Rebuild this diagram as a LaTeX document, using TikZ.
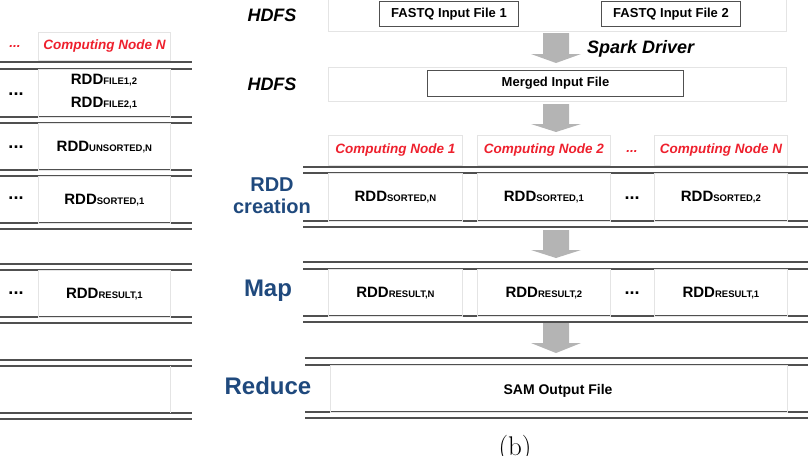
\documentclass[tikz,border=0pt]{standalone}
\usepackage{fontspec}
\newfontfamily\arialf{Liberation Sans}
\newcommand\fsz[1]{\fontsize{#1}{#1}\selectfont}
\newcommand\rddsub[1]{RDD{\fontsize{9.5}{10}\selectfont #1}}
\definecolor{cellgray}{RGB}{228,228,228}
\definecolor{linegray}{RGB}{80,80,80}
\definecolor{arrgray}{RGB}{180,180,180}
\definecolor{nodered}{RGB}{238,32,45}
\definecolor{stageblue}{RGB}{31,73,125}
\tikzset{
  cellbox/.style={draw=cellgray, line width=0.8pt, inner sep=0pt, anchor=north west},
  filebox/.style={draw=linegray, line width=1pt, inner sep=0pt, anchor=north west,
    font=\arialf\bfseries\fsz{13}},
  dline/.style={draw=linegray, line width=1.5pt},
  redlab/.style={text=nodered, font=\arialf\bfseries\itshape\fsz{13.5}},
  rddlab/.style={font=\arialf\bfseries\fsz{15}, inner sep=0pt},
  dots/.style={font=\arialf\bfseries\fsz{18}, inner sep=0pt},
  hdfslab/.style={font=\arialf\bfseries\itshape\fsz{18}, inner sep=0pt},
  stagelab/.style={text=stageblue, font=\arialf\bfseries\fontsize{20}{22}\selectfont,
    align=center, inner sep=0pt},
  blockarrow/.style={fill=arrgray, draw=none}
}
\newcommand\blockarr[4]{% x center, shaft top, head base, tip
  \fill[blockarrow] (#1-13,#2) -- (#1+13,#2) -- (#1+13,#3) -- (#1+25,#3)
    -- (#1,#4) -- (#1-25,#3) -- (#1-13,#3) -- cycle;}
\begin{document}
\begin{tikzpicture}[x=1pt,y=-1pt]
\useasboundingbox (0,0) rectangle (808,455);

% ===================== left panel =====================
\node[redlab, inner sep=0pt] (ldots) at (15,46) {...};
\node[cellbox, minimum width=132pt, minimum height=28pt] (lhead) at (38,32) {};
\node[redlab] at (lhead.center) {Computing Node N};
\foreach \y in {62,69,117,123,170,176,223,229,264,270,317,323,360,366,413,419}
  \draw[dline] (0,\y) -- (192,\y);
\node[cellbox, minimum width=132pt, minimum height=48pt] (lr1) at (38,69) {};
\node[rddlab] (lf1) at (104,80) {\rddsub{FILE1,2}};
\node[rddlab] (lf2) at (104,103) {\rddsub{FILE2,1}};
\node[dots] (ld1) at (16,94) {...};
\node[cellbox, minimum width=132pt, minimum height=47pt] (lr2) at (38,123) {};
\node[rddlab] (lu) at (lr2.center) {\rddsub{UNSORTED,N}};
\node[dots] (ld2) at (16,147) {...};
\node[cellbox, minimum width=132pt, minimum height=47pt] (lr3) at (38,176) {};
\node[rddlab] (ls) at (lr3.center) {\rddsub{SORTED,1}};
\node[dots] (ld3) at (16,198) {...};
\node[cellbox, minimum width=132pt, minimum height=47pt] (lr4) at (38,270) {};
\node[rddlab] (lres) at (lr4.center) {\rddsub{RESULT,1}};
\node[dots] (ld4) at (16,293) {...};
\draw[draw=cellgray, line width=0.8pt] (170,366) -- (170,413);

% ===================== right panel =====================
% HDFS input row
\node[cellbox, minimum width=458pt, minimum height=33pt] (toprow) at (328,-2) {};
\node[hdfslab] (hdfs1) at (272,15) {HDFS};
\node[filebox, minimum width=139pt, minimum height=25pt] (fq1) at (379,1) {FASTQ Input File 1};
\node[filebox, minimum width=139pt, minimum height=25pt] (fq2) at (601,1) {FASTQ Input File 2};
\blockarr{556}{33}{54}{63}
\node[hdfslab, anchor=west] (spark) at (587,49) {Spark Driver};

% merged row
\node[cellbox, minimum width=458pt, minimum height=34pt] (midrow) at (328,67) {};
\node[hdfslab] (hdfs2) at (272,84) {HDFS};
\node[filebox, minimum width=256pt, minimum height=26pt] (merged) at (427,70) {Merged Input File};
\blockarr{556}{104}{124}{132}

% computing node headers
\node[cellbox, minimum width=134pt, minimum height=30pt] (h1) at (328,135) {};
\node[cellbox, minimum width=133pt, minimum height=30pt] (h2) at (477,135) {};
\node[cellbox, minimum width=133pt, minimum height=30pt] (h3) at (654,135) {};
\node[redlab] at (h1.center) {Computing Node 1};
\node[redlab] at (h2.center) {Computing Node 2};
\node[redlab] at (h3.center) {Computing Node N};
\node[redlab, inner sep=0pt] (hdots) at (632,151) {...};

% RDD creation row
\foreach \y in {167,173,221,227} \draw[dline] (303,\y) -- (808,\y);
\node[cellbox, minimum width=134pt, minimum height=48pt] (s1) at (328,173) {};
\node[cellbox, minimum width=133pt, minimum height=48pt] (s2) at (477,173) {};
\node[cellbox, minimum width=133pt, minimum height=48pt] (s3) at (654,173) {};
\node[rddlab] at (s1.center) {\rddsub{SORTED,N}};
\node[rddlab] at (s2.center) {\rddsub{SORTED,1}};
\node[rddlab] at (s3.center) {\rddsub{SORTED,2}};
\node[dots] (sdots) at (632,198) {...};
\node[stagelab] (rddc) at (272,196) {RDD\\creation};
\blockarr{556}{230}{250}{258}

% Map row
\foreach \y in {262,269,316,322} \draw[dline] (303,\y) -- (808,\y);
\node[cellbox, minimum width=134pt, minimum height=47pt] (m1) at (328,269) {};
\node[cellbox, minimum width=133pt, minimum height=47pt] (m2) at (477,269) {};
\node[cellbox, minimum width=133pt, minimum height=47pt] (m3) at (654,269) {};
\node[rddlab] at (m1.center) {\rddsub{RESULT,N}};
\node[rddlab] at (m2.center) {\rddsub{RESULT,2}};
\node[rddlab] at (m3.center) {\rddsub{RESULT,1}};
\node[dots] (mdots) at (632,293) {...};
\node[stagelab, font=\arialf\bfseries\fsz{24}] (map) at (268,291) {Map};
\blockarr{556}{323}{343}{353}

% Reduce row
\foreach \y in {358,365,412,418} \draw[dline] (305,\y) -- (808,\y);
\node[cellbox, minimum width=457pt, minimum height=47pt] (red) at (330,365) {};
\node[rddlab, font=\arialf\bfseries\fsz{14}] (sam) at (558,391) {SAM Output File};
\node[stagelab, font=\arialf\bfseries\fsz{24}] (reduce) at (268,386) {Reduce};

% caption
\node[font=\fsz{27}, anchor=base, inner sep=0pt] (cap) at (515,455) {(b)};
\end{tikzpicture}
\end{document}
